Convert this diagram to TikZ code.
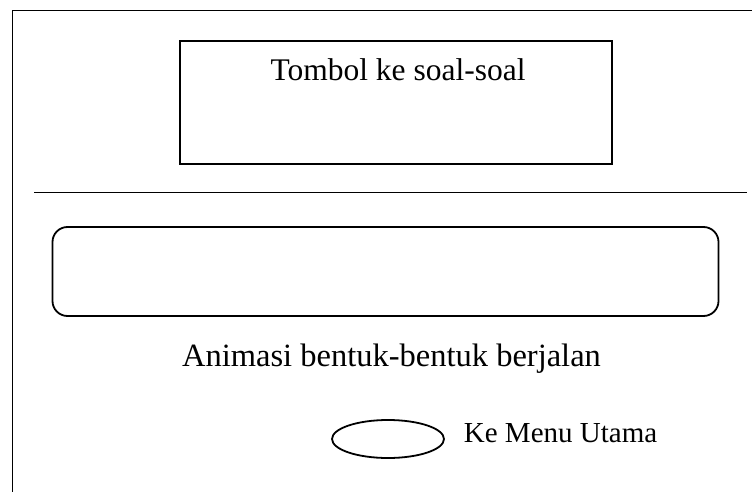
\documentclass[tikz,border=0pt]{standalone}
\usepackage{fontspec}
\setmainfont{Liberation Serif}
\usetikzlibrary{shapes.geometric}

\begin{document}
\begin{tikzpicture}[x=1pt,y=-1pt, line width=1.8pt,
	block/.style={draw,minimum width=432pt,minimum height=123pt,inner sep=0pt},
	panel/.style={draw,rounded corners=15pt,minimum width=666pt,minimum height=89pt,inner sep=0pt},
	btn/.style={draw,ellipse,minimum width=112pt,minimum height=38pt,inner sep=0pt},
	lbl/.style={inner sep=0pt,anchor=base},
	font=\fontsize{31.5}{36}\selectfont]
	\useasboundingbox (0,0) rectangle (752,492);
	% frame of the screen, open at right and bottom
	\draw (12.5,492) -- (12.5,10.5) -- (752,10.5);
	\draw (34,192.5) -- (747,192.5);
	\draw (396,102.5) node[block] (tombol) {}
	(398,81) node[lbl] (tombolTxt) {Tombol ke soal-soal};
	\draw (385.5,271.5) node[panel] (anim) {}
	(391.5,366) node[lbl,font=\fontsize{32.5}{37}\selectfont] (animTxt) {Animasi bentuk-bentuk berjalan};
	\draw (388,439) node[btn] (menu) {}
	(463,442) node[lbl,anchor=base west,font=\fontsize{29}{34}\selectfont] (menuTxt) {Ke Menu Utama};
\end{tikzpicture}
\end{document}
